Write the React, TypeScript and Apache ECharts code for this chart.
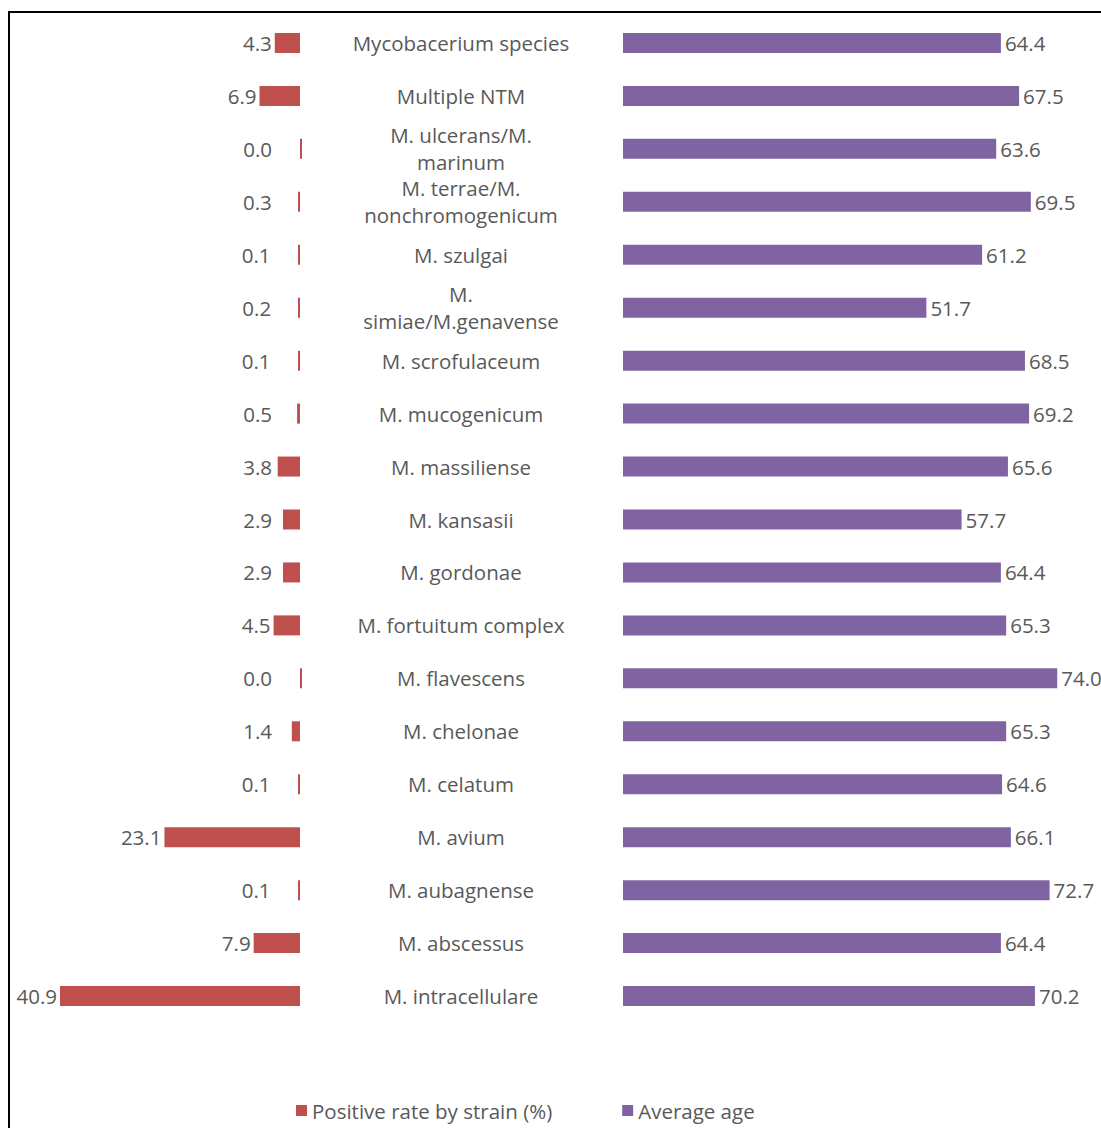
import React, { useEffect, useRef } from "react";
import * as echarts from "echarts";

const categories = [
  "Mycobacerium species",
  "Multiple NTM",
  "M. ulcerans/M.\nmarinum",
  "M. terrae/M.\nnonchromogenicum",
  "M. szulgai",
  "M.\nsimiae/M.genavense",
  "M. scrofulaceum",
  "M. mucogenicum",
  "M. massiliense",
  "M. kansasii",
  "M. gordonae",
  "M. fortuitum complex",
  "M. flavescens",
  "M. chelonae",
  "M. celatum",
  "M. avium",
  "M. aubagnense",
  "M. abscessus",
  "M. intracellulare",
];

const positiveRate = [4.3, 6.9, 0.0, 0.3, 0.1, 0.2, 0.1, 0.5, 3.8, 2.9, 2.9, 4.5, 0.0, 1.4, 0.1, 23.1, 0.1, 7.9, 40.9];
const averageAge = [64.4, 67.5, 63.6, 69.5, 61.2, 51.7, 68.5, 69.2, 65.6, 57.7, 64.4, 65.3, 74.0, 65.3, 64.6, 66.1, 72.7, 64.4, 70.2];

const seriesNames = ["Positive rate by strain (%)", "Average age"];

const RED = "#C0504D";
const PURPLE = "#8064A2";
const TEXT = "#595959";
const FONT = "Open Sans";
const FS = 20.5;

export default function App() {
  const ref = useRef<HTMLDivElement>(null);
  useEffect(() => {
    if (!ref.current) return;
    const chart = echarts.init(ref.current, undefined, { renderer: "svg" });
    const pxPerUnit = 5.868;
    const leftData = positiveRate.map((v) => ({
      value: v,
      label: { distance: Math.max(3, 28 - v * pxPerUnit) },
    }));
    chart.setOption({
      animation: false,
      backgroundColor: "#ffffff",
      textStyle: { fontFamily: FONT },
      graphic: [
        {
          type: "rect",
          shape: { x: 9, y: 12, width: 1200, height: 1200 },
          style: { fill: "none", stroke: "#000000", lineWidth: 2 },
          silent: true,
        },
      ],
      legend: {
        left: 291,
        top: 1095,
        itemWidth: 11,
        itemHeight: 11,
        itemGap: 70,
        icon: "rect",
        textStyle: { color: TEXT, fontSize: FS, fontFamily: FONT },
        data: seriesNames,
      },
      grid: [
        { left: 300 - 50 * pxPerUnit, width: 50 * pxPerUnit, top: 16.5, height: 1006, containLabel: false },
        { left: 623, width: 80 * pxPerUnit, top: 16.5, height: 1006, containLabel: false },
      ],
      xAxis: [
        { type: "value", gridIndex: 0, min: 0, max: 50, inverse: true, show: false },
        { type: "value", gridIndex: 1, min: 0, max: 80, show: false },
      ],
      yAxis: [
        {
          type: "category",
          gridIndex: 0,
          data: categories,
          inverse: true,
          position: "right",
          axisLine: { show: false },
          axisTick: { show: false },
          splitLine: { show: false },
          axisLabel: {
            align: "center",
            margin: 161,
            color: TEXT,
            fontSize: FS,
            fontFamily: FONT,
            lineHeight: 27,
            interval: 0,
          },
        },
        {
          type: "category",
          gridIndex: 1,
          data: categories,
          inverse: true,
          show: false,
        },
      ],
      series: [
        {
          name: seriesNames[0],
          type: "bar",
          xAxisIndex: 0,
          yAxisIndex: 0,
          data: leftData,
          barWidth: 20,
          barMinHeight: 2,
          clip: false,
          itemStyle: { color: RED },
          label: {
            show: true,
            position: "left",
            color: TEXT,
            fontSize: FS,
            fontFamily: FONT,
            formatter: (p: any) => Number(p.value).toFixed(1),
          },
        },
        {
          name: seriesNames[1],
          type: "bar",
          xAxisIndex: 1,
          yAxisIndex: 1,
          data: averageAge,
          barWidth: 20,
          clip: false,
          itemStyle: { color: PURPLE },
          label: {
            show: true,
            position: "right",
            distance: 4,
            color: TEXT,
            fontSize: FS,
            fontFamily: FONT,
            formatter: (p: any) => Number(p.value).toFixed(1),
          },
        },
      ],
    });
    return () => chart.dispose();
  }, []);
  return (
    <div
      ref={ref}
      style={{ position: "absolute", left: 0, top: 0, width: 1101, height: 1128, overflow: "hidden" }}
    />
  );
}
